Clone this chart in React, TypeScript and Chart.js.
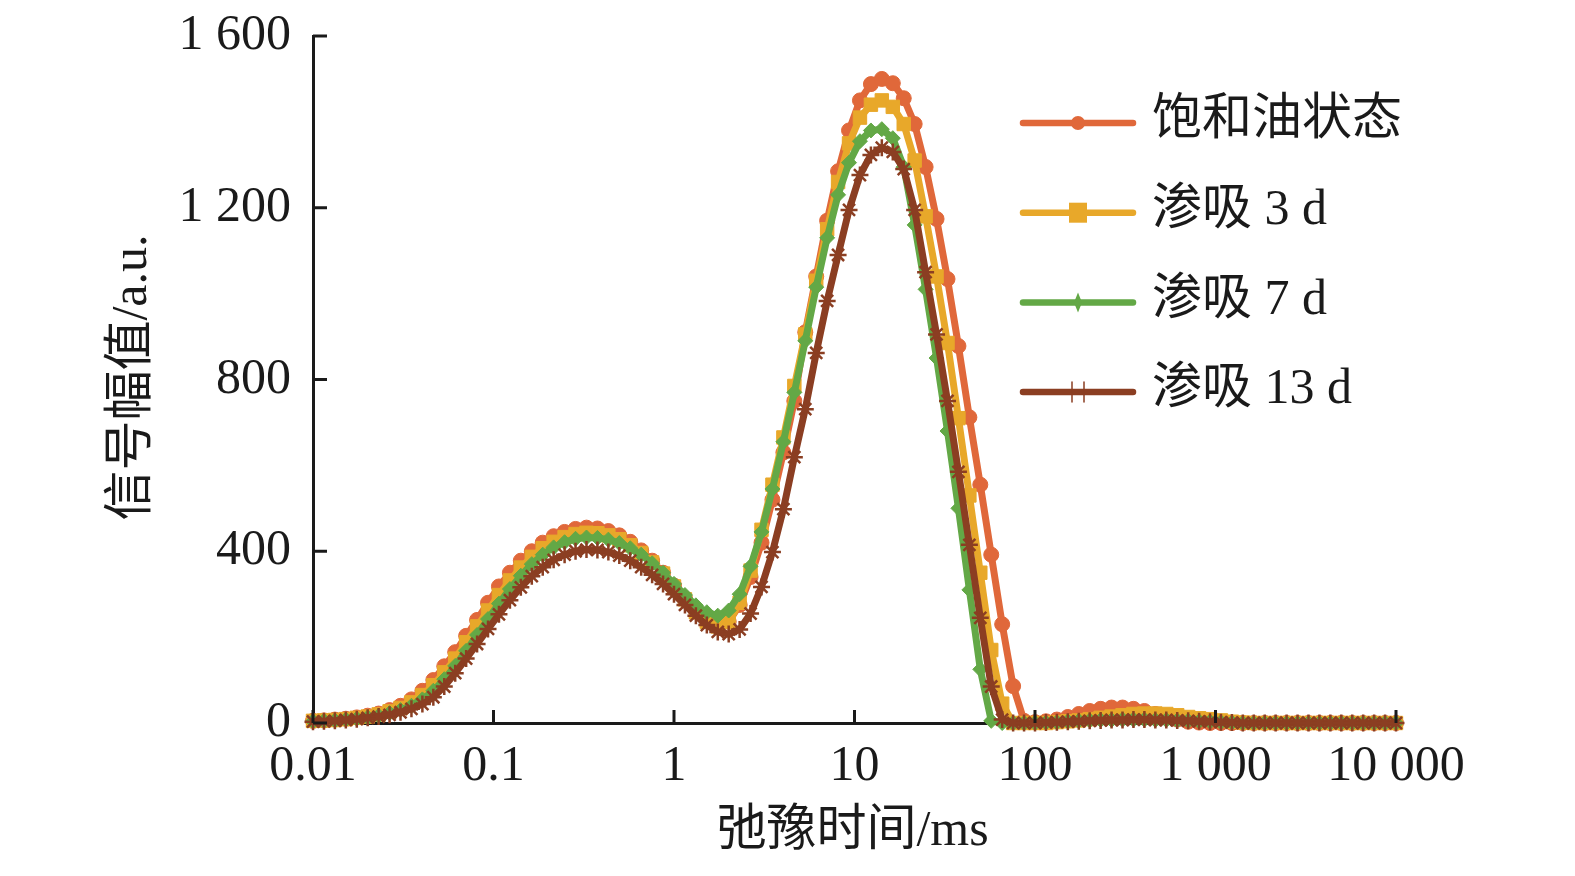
import React, { useEffect, useRef } from 'react';
import { Chart, registerables } from 'chart.js';

Chart.register(...registerables);

// Relaxation time grid (ms), log-spaced 0.01 – 10000
const T2 = [
  0.01, 0.0115, 0.01322, 0.0152, 0.01748, 0.02009, 0.0231, 0.02656, 0.03054, 0.03511,
  0.04037, 0.04642, 0.05337, 0.06136, 0.07055, 0.08111, 0.09326, 0.1072, 0.1233, 0.1417,
  0.163, 0.1874, 0.2154, 0.2477, 0.2848, 0.3275, 0.3765, 0.4329, 0.4977, 0.5722,
  0.6579, 0.7565, 0.8697, 1.0, 1.15, 1.322, 1.52, 1.748, 2.009, 2.31,
  2.656, 3.054, 3.511, 4.037, 4.642, 5.337, 6.136, 7.055, 8.111, 9.326,
  10.72, 12.33, 14.17, 16.3, 18.74, 21.54, 24.77, 28.48, 32.75, 37.65,
  43.29, 49.77, 57.22, 65.79, 75.65, 86.97, 100.0, 115.0, 132.2, 152.0,
  174.8, 200.9, 231.0, 265.6, 305.4, 351.1, 403.7, 464.2, 533.7, 613.6,
  705.5, 811.1, 932.6, 1072, 1233, 1417, 1630, 1874, 2154, 2477,
  2848, 3275, 3765, 4329, 4977, 5722, 6579, 7565, 8697, 10000,
];

const SATURATED = [
  5, 6, 8, 10, 13, 17, 22, 30, 40, 55,
  75, 100, 132, 165, 203, 240, 280, 318, 350, 378,
  400, 420, 435, 445, 452, 455, 453, 447, 437, 422,
  402, 378, 350, 320, 290, 262, 240, 228, 236, 275,
  340, 420, 520, 630, 750, 910, 1040, 1170, 1285, 1380,
  1450, 1488, 1500, 1490, 1455, 1395, 1295, 1174, 1034, 878,
  712, 555, 392, 230, 86, 5, 2, 4, 8, 14,
  21, 28, 33, 36, 36, 33, 28, 21, 14, 8,
  3, 1, 0, 0, 0, 0, 0, 0, 0, 0,
  0, 0, 0, 0, 0, 0, 0, 0, 0, 0,
];

const IMB_3D = [
  5, 6, 7, 9, 12, 15, 20, 27, 35, 48,
  65, 88, 118, 150, 188, 225, 262, 298, 332, 362,
  387, 407, 422, 433, 440, 443, 442, 437, 428, 414,
  396, 374, 348, 318, 288, 258, 236, 225, 235, 280,
  355, 450, 555, 665, 785, 905, 1030, 1150, 1260, 1350,
  1410, 1440, 1450, 1435, 1395, 1310, 1180, 1040, 885, 710,
  530, 350, 170, 45, 0, 0, 0, 0, 2, 4,
  6, 9, 12, 15, 18, 21, 22, 22, 21, 18,
  14, 11, 9, 6, 3, 1, 0, 0, 0, 0,
  0, 0, 0, 0, 0, 0, 0, 0, 0, 0,
];

const IMB_7D = [
  4, 5, 6, 8, 10, 13, 17, 23, 30, 40,
  55, 75, 102, 133, 168, 205, 242, 278, 312, 343,
  370, 392, 409, 421, 429, 432, 431, 427, 419, 407,
  392, 372, 350, 324, 298, 274, 258, 250, 262, 300,
  365, 445, 545, 655, 770, 890, 1015, 1130, 1230, 1305,
  1355, 1380, 1383, 1362, 1295, 1160, 1010, 850, 680, 500,
  310, 125, 5, 0, 0, 0, 0, 1, 2, 4,
  5, 6, 7, 7, 8, 8, 8, 7, 7, 6,
  5, 4, 3, 2, 1, 0, 0, 0, 0, 0,
  0, 0, 0, 0, 0, 0, 0, 0, 0, 0,
];

const IMB_13D = [
  3, 4, 5, 7, 9, 12, 15, 19, 25, 33,
  44, 60, 85, 116, 150, 184, 219, 253, 286, 316,
  342, 363, 380, 392, 400, 404, 403, 398, 390, 378,
  363, 345, 324, 300, 275, 250, 228, 212, 207, 218,
  255, 317, 398, 498, 619, 731, 862, 983, 1090, 1195,
  1276, 1323, 1340, 1330, 1290, 1195, 1050, 905, 750, 585,
  415, 245, 85, 8, 0, 0, 0, 1, 2, 3,
  4, 5, 6, 7, 7, 8, 8, 7, 7, 6,
  5, 4, 3, 2, 1, 0, 0, 0, 0, 0,
  0, 0, 0, 0, 0, 0, 0, 0, 0, 0,
];

const SERIES_NAMES = ['饱和油状态', '渗吸 3 d', '渗吸 7 d', '渗吸 13 d'];
const SERIES_COLORS = ['#E0683A', '#E8A82A', '#63A846', '#8B3E22'];
const SERIES_MARKERS = ['circle', 'rect', 'rectRot', 'star'];

const X_TICKS = [0.01, 0.1, 1, 10, 100, 1000, 10000];
const X_TICK_LABELS = ['0.01', '0.1', '1', '10', '100', '1 000', '10 000'];
const Y_TICKS = [0, 400, 800, 1200, 1600];
const Y_TICK_LABELS = ['0', '400', '800', '1 200', '1 600'];
const X_TITLE = '弛豫时间/ms';
const Y_TITLE = '信号幅值/a.u.';

const FONT = '"Liberation Serif", "Noto Sans CJK SC", serif';
const INK = '#1a1a1a';

function drawMarker(ctx: CanvasRenderingContext2D, style: string, x: number, y: number, color: string) {
  ctx.save();
  ctx.fillStyle = color;
  ctx.strokeStyle = color;
  if (style === 'circle') {
    ctx.beginPath();
    ctx.arc(x, y, 7, 0, Math.PI * 2);
    ctx.fill();
  } else if (style === 'rect') {
    ctx.fillRect(x - 9, y - 10, 18, 20);
  } else if (style === 'rectRot') {
    ctx.beginPath();
    ctx.moveTo(x, y - 10);
    ctx.lineTo(x + 4, y);
    ctx.lineTo(x, y + 10);
    ctx.lineTo(x - 4, y);
    ctx.closePath();
    ctx.fill();
  } else {
    ctx.lineWidth = 1.5;
    ctx.beginPath();
    ctx.moveTo(x - 6, y - 10);
    ctx.lineTo(x - 6, y + 10);
    ctx.moveTo(x + 6, y - 10);
    ctx.lineTo(x + 6, y + 10);
    ctx.stroke();
  }
  ctx.restore();
}

const overlayPlugin = {
  id: 'overlay',
  afterDraw(chart: any) {
    const { ctx, chartArea, scales } = chart;
    const xs = scales.x;
    const ys = scales.y;
    ctx.save();
    // inward tick marks
    ctx.strokeStyle = INK;
    ctx.lineWidth = 3;
    ctx.lineCap = 'butt';
    Y_TICKS.forEach((v) => {
      const y = ys.getPixelForValue(v);
      ctx.beginPath();
      ctx.moveTo(chartArea.left, y);
      ctx.lineTo(chartArea.left + 14, y);
      ctx.stroke();
    });
    X_TICKS.forEach((v) => {
      const x = xs.getPixelForValue(v);
      ctx.beginPath();
      ctx.moveTo(x, chartArea.bottom);
      ctx.lineTo(x, chartArea.bottom - 13);
      ctx.stroke();
    });
    // axis titles
    ctx.fillStyle = INK;
    ctx.font = `50px ${FONT}`;
    ctx.textAlign = 'center';
    ctx.textBaseline = 'middle';
    ctx.fillText(X_TITLE, (chartArea.left + chartArea.right) / 2 - 2, chartArea.bottom + 109);
    ctx.save();
    ctx.translate(chartArea.left - 180, (chartArea.top + chartArea.bottom) / 2 - 2);
    ctx.rotate(-Math.PI / 2);
    ctx.fillText(Y_TITLE, 0, 0);
    ctx.restore();
    // legend
    const x0 = chartArea.right - 373;
    const x1 = chartArea.right - 263;
    chart.data.datasets.forEach((ds: any, k: number) => {
      const y = chartArea.top + 87 + k * 89.7;
      ctx.strokeStyle = ds.borderColor;
      ctx.lineWidth = 6.5;
      ctx.lineCap = 'round';
      ctx.beginPath();
      ctx.moveTo(x0, y);
      ctx.lineTo(x1, y);
      ctx.stroke();
      drawMarker(ctx, SERIES_MARKERS[k], (x0 + x1) / 2, y, ds.borderColor);
      ctx.fillStyle = INK;
      ctx.textAlign = 'left';
      ctx.textBaseline = 'middle';
      ctx.font = `50px ${FONT}`;
      ctx.fillText(ds.label, x1 + 19, y - 2);
    });
    ctx.restore();
  },
};

export default function App() {
  const canvasRef = useRef<HTMLCanvasElement | null>(null);

  useEffect(() => {
    const canvas = canvasRef.current;
    if (!canvas) return;
    const seriesValues = [SATURATED, IMB_3D, IMB_7D, IMB_13D];
    const drawOrder = [4, 3, 2, 1];
    const radii = [7.5, 9.5, 7.5, 8.5];
    const datasets = seriesValues.map((vals, k) => ({
      label: SERIES_NAMES[k],
      data: T2.map((t, i) => ({ x: t, y: vals[i] })),
      borderColor: SERIES_COLORS[k],
      backgroundColor: SERIES_COLORS[k],
      borderWidth: 7,
      pointStyle: SERIES_MARKERS[k],
      pointRadius: radii[k],
      pointBackgroundColor: SERIES_COLORS[k],
      pointBorderColor: SERIES_COLORS[k],
      pointBorderWidth: k === 3 ? 2.5 : 1,
      tension: 0,
      clip: false as any,
      order: drawOrder[k],
    }));

    const chart = new Chart(canvas, {
      type: 'line',
      data: { datasets },
      options: {
        animation: false,
        responsive: false,
        devicePixelRatio: 1,
        layout: { padding: { left: 0, right: 179, top: 36, bottom: 0 } },
        plugins: {
          legend: { display: false },
          tooltip: { enabled: false },
          title: { display: false },
        },
        scales: {
          x: {
            type: 'logarithmic',
            min: 0.01,
            max: 10000,
            afterBuildTicks: (scale: any) => {
              scale.ticks = X_TICKS.map((v) => ({ value: v }));
            },
            afterFit: (scale: any) => {
              scale.height = 153;
              scale.paddingLeft = 0;
              scale.paddingRight = 0;
            },
            ticks: {
              autoSkip: false,
              maxRotation: 0,
              minRotation: 0,
              padding: 14,
              color: INK,
              font: { family: FONT, size: 50 },
              callback: (_v: any, i: number) => X_TICK_LABELS[i],
            },
            grid: { display: true, drawOnChartArea: false, drawTicks: false },
            border: { display: true, color: INK, width: 3 },
          },
          y: {
            type: 'linear',
            min: 0,
            max: 1600,
            afterBuildTicks: (scale: any) => {
              scale.ticks = Y_TICKS.map((v) => ({ value: v }));
            },
            afterFit: (scale: any) => {
              scale.width = 313;
              scale.paddingTop = 0;
              scale.paddingBottom = 0;
            },
            ticks: {
              padding: 22,
              color: INK,
              font: { family: FONT, size: 50 },
              callback: (_v: any, i: number) => Y_TICK_LABELS[i],
            },
            grid: { display: true, drawOnChartArea: false, drawTicks: false },
            border: { display: true, color: INK, width: 3 },
          },
        },
      } as any,
      plugins: [overlayPlugin],
    });

    return () => {
      chart.destroy();
    };
  }, []);

  return (
    <div style={{ position: 'fixed', left: 0, top: 0, width: 1575, height: 876, background: '#fff' }}>
      <canvas ref={canvasRef} width={1575} height={876} style={{ width: 1575, height: 876, display: 'block' }} />
    </div>
  );
}
